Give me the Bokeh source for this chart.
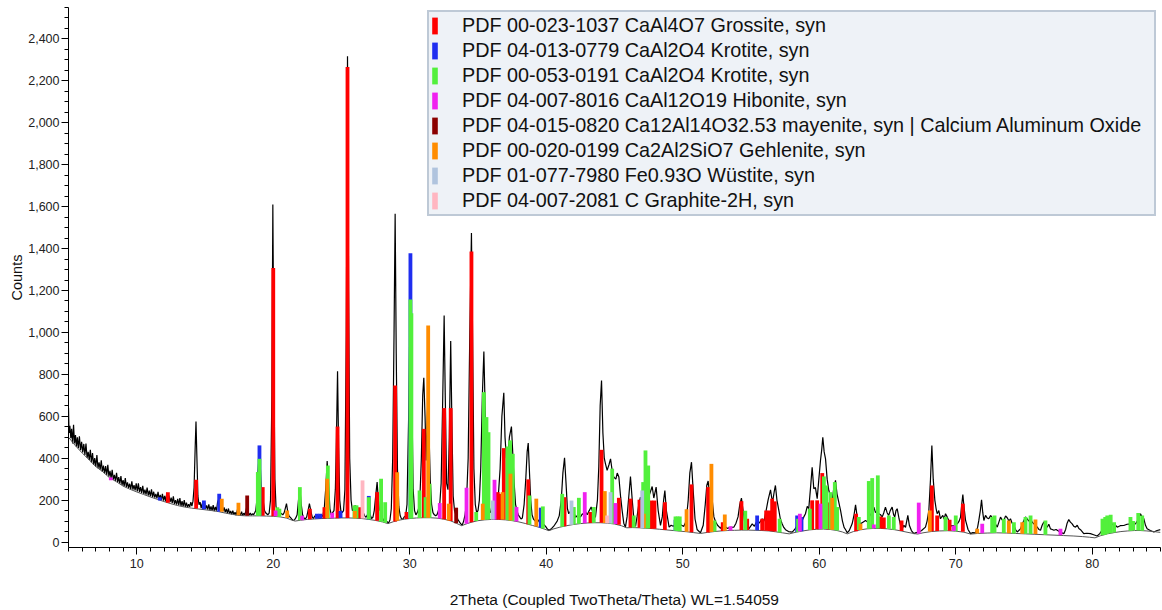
from bokeh.plotting import figure
from bokeh.models import Range1d, FixedTicker, NumeralTickFormatter, Legend, LegendItem
from bokeh.embed import file_html
from bokeh.resources import INLINE

# ---------------- data (2Theta, counts) ----------------
scan_low = [(5.00,640),(5.04,520),(5.10,555),(5.17,495),(5.23,540),(5.30,470),(5.37,560),(5.44,470),(5.51,510),(5.58,455),(5.65,500),(5.72,448),(5.80,505),(5.88,438),(5.96,478),(6.04,428),(6.12,468),(6.20,415),(6.28,470),(6.36,402),(6.44,430),(6.52,392),(6.60,440),(6.68,380),(6.76,425),(6.84,368),(6.92,400),(7.00,360),(7.08,415),(7.16,352),(7.24,380),(7.32,345),(7.40,390),(7.48,336),(7.56,365),(7.64,328),(7.72,362),(7.80,320),(7.88,368),(7.96,312),(8.04,340),(8.12,305),(8.20,345),(8.28,298),(8.36,320),(8.44,292),(8.52,330),(8.60,286),(8.68,310),(8.76,278),(8.84,315),(8.92,272),(9.00,295),(9.08,266),(9.16,305),(9.24,262),(9.32,285),(9.40,258),(9.48,278),(9.56,252),(9.64,290),(9.72,250),(9.80,272),(9.88,246),(9.96,280),(10.04,242),(10.12,280),(10.20,238),(10.28,262),(10.36,235),(10.44,268),(10.52,230),(10.60,250),(10.68,226),(10.76,260),(10.84,222),(10.92,245),(11.00,218),(11.08,252),(11.16,214),(11.24,240),(11.32,212),(11.40,230),(11.48,208),(11.56,240),(11.64,204),(11.72,225),(11.80,200),(11.88,230),(11.96,198),(12.04,220),(12.12,194),(12.20,235),(12.28,200),(12.36,222),(12.44,190),(12.52,212),(12.60,186),(12.68,218),(12.76,182),(12.84,200),(12.92,178),(13.00,206),(13.08,176),(13.16,210),(13.24,172),(13.32,195),(13.40,170),(13.48,200),(13.56,168),(13.64,188),(13.72,166),(13.80,180),(13.88,168),(13.96,190),(14.04,172),(14.12,195),(14.20,260),(14.28,450),(14.34,575),(14.40,420),(14.48,220),(14.56,178),(14.64,190),(14.72,162),(14.80,185),(14.88,160),(14.96,190),(15.04,158),(15.12,175),(15.20,155),(15.28,180),(15.36,152),(15.44,170),(15.52,150),(15.60,176),(15.68,148),(15.76,168),(15.84,150),(15.92,190),(16.00,205),(16.08,175),(16.16,195),(16.24,160),(16.32,148),(16.40,165),(16.48,142),(16.56,158),(16.64,138),(16.72,160),(16.80,135),(16.88,148),(16.96,132),(17.04,150),(17.12,130),(17.20,142),(17.28,128),(17.36,150),(17.44,170),(17.52,140),(17.60,128),(17.68,145),(17.76,126),(17.84,138),(17.92,130),(18.00,150),(18.08,175),(18.16,140),(18.24,130),(18.32,138),(18.40,128),(18.48,135),(18.56,130),(18.64,140),(18.72,150),(18.80,200),(18.88,330),(18.96,410),(19.04,380),(19.12,250),(19.20,240),(19.28,190),(19.36,150),(19.44,140),(19.52,135),(19.60,130),(19.70,138)]

scan_mid = [(19.80,200),(19.90,700),(19.97,1610),(20.04,900),(20.12,300),(20.20,170),(20.30,150),(20.40,155),(20.50,140),(20.60,135),(20.70,130),(20.80,140),(20.90,165),(20.97,183),(21.05,150),(21.15,125),(21.25,118),(21.35,110),(21.45,103),(21.55,105),(21.65,115),(21.75,130),(21.85,200),(21.95,257),(22.05,180),(22.15,130),(22.25,115),(22.35,110),(22.45,120),(22.55,150),(22.65,183),(22.75,150),(22.85,120),(22.95,112),(23.05,125),(23.15,118),(23.25,130),(23.35,115),(23.45,112),(23.55,118),(23.65,130),(23.75,170),(23.85,260),(23.95,386),(24.05,280),(24.15,160),(24.25,130),(24.35,140),(24.45,150),(24.55,250),(24.63,500),(24.71,815),(24.79,450),(24.87,200),(24.95,150),(25.05,140),(25.15,150),(25.25,250),(25.35,1000),(25.44,2318),(25.52,1200),(25.60,400),(25.70,200),(25.80,150),(25.90,160),(26.00,175),(26.10,165),(26.20,140),(26.30,160),(26.40,150),(26.50,160),(26.60,140),(26.70,125),(26.80,118),(26.90,130),(27.00,160),(27.10,130),(27.20,112),(27.30,118),(27.40,150),(27.52,230),(27.61,286),(27.70,200),(27.80,150),(27.90,165),(28.00,115),(28.10,100),(28.20,125),(28.30,100),(28.44,90),(28.55,105),(28.65,160),(28.75,400),(28.85,1000),(28.93,1566),(29.01,900),(29.10,350),(29.20,170),(29.30,125),(29.40,110),(29.50,110),(29.60,120),(29.70,125),(29.80,180),(29.92,600),(30.00,1000),(30.07,1100),(30.15,700),(30.25,250),(30.35,150),(30.45,130),(30.55,140),(30.65,160),(30.75,220),(30.85,400),(30.95,700),(31.03,784),(31.12,600),(31.20,389),(31.28,600),(31.35,700),(31.42,500),(31.50,300),(31.60,180),(31.70,140),(31.80,130),(31.90,125),(32.00,130),(32.10,150),(32.20,180),(32.30,280),(32.42,700),(32.52,1081),(32.60,700),(32.70,280),(32.80,250),(32.90,500),(33.00,959),(33.08,600),(33.18,220),(33.28,150),(33.40,125),(33.55,105),(33.70,90),(33.84,80),(33.95,100),(34.05,130),(34.15,180),(34.28,400),(34.40,1000),(34.52,1474),(34.60,1000),(34.70,350),(34.80,180),(34.90,140),(35.00,150),(35.10,200),(35.20,350),(35.32,700),(35.43,909),(35.52,650),(35.62,400),(35.72,250),(35.82,170),(35.92,140),(36.02,150),(36.12,180),(36.22,170),(36.32,150),(36.42,180),(36.52,250),(36.62,350),(36.75,600),(36.89,712),(36.98,500),(37.08,400),(37.20,420),(37.30,500),(37.45,551),(37.55,420),(37.65,280),(37.75,180),(37.85,150),(37.95,130),(38.05,120),(38.15,110),(38.25,115),(38.38,180),(38.50,300),(38.60,430),(38.68,472),(38.76,350),(38.86,200),(38.96,130),(39.06,110),(39.20,100),(39.35,110),(39.50,95),(39.65,100),(39.80,85),(39.95,75),(40.05,65),(40.19,55)]

scan_high = [(40.40,65),(40.60,80),(40.80,100),(40.95,125),(41.10,200),(41.22,330),(41.34,402),(41.45,280),(41.55,160),(41.65,135),(41.80,150),(41.90,130),(42.02,144),(42.15,118),(42.30,128),(42.51,120),(42.65,135),(42.80,125),(42.88,144),(43.00,130),(43.15,150),(43.29,167),(43.42,140),(43.60,118),(43.75,200),(43.85,360),(43.95,650),(44.05,771),(44.15,520),(44.25,400),(44.34,373),(44.46,342),(44.60,370),(44.71,397),(44.83,340),(44.95,310),(45.10,300),(45.20,329),(45.32,310),(45.45,214),(45.56,150),(45.68,90),(45.80,71),(45.92,120),(46.05,220),(46.17,313),(46.30,200),(46.42,110),(46.54,75),(46.65,120),(46.78,180),(46.90,214),(47.00,190),(47.12,220),(47.25,200),(47.38,230),(47.50,215),(47.63,240),(47.76,265),(47.88,210),(48.05,262),(48.20,150),(48.37,79),(48.50,120),(48.60,200),(48.69,246),(48.80,150),(49.00,71),(49.15,80),(49.30,75),(49.45,85),(49.60,78),(49.75,90),(49.90,80),(50.08,75),(50.25,100),(50.40,200),(50.52,330),(50.64,381),(50.76,250),(50.90,110),(51.05,60),(51.30,44),(51.50,80),(51.65,180),(51.76,270),(51.86,291),(51.96,230),(52.06,260),(52.16,200),(52.28,120),(52.40,98),(52.55,80),(52.77,65),(52.95,90),(53.10,75),(53.26,65),(53.50,70),(53.74,71),(53.90,90),(54.05,120),(54.18,180),(54.30,210),(54.42,150),(54.55,90),(54.72,65),(54.84,63),(55.09,87),(55.25,75),(55.45,103),(55.60,90),(55.82,111),(55.95,100),(56.11,151),(56.25,200),(56.43,249),(56.52,210),(56.60,199),(56.70,240),(56.79,270),(56.90,200),(57.04,151),(57.15,110),(57.28,87),(57.40,70),(57.53,59),(57.75,50),(58.02,47),(58.20,60),(58.38,79),(58.55,90),(58.75,103),(58.87,120),(58.99,135),(59.12,170),(59.23,159),(59.35,250),(59.48,357),(59.60,254),(59.72,260),(59.85,207),(59.97,300),(60.09,389),(60.18,440),(60.26,500),(60.36,430),(60.46,397),(60.58,300),(60.70,246),(60.82,220),(60.95,199),(61.07,260),(61.19,294),(61.30,230),(61.43,190),(61.56,151),(61.70,100),(61.82,70),(61.92,60),(62.05,44),(62.20,55),(62.41,87),(62.55,130),(62.66,178),(62.78,120),(62.90,100),(63.02,87),(63.20,95),(63.39,103),(63.55,95),(63.75,135),(63.88,120),(64.00,167),(64.12,140),(64.24,150),(64.36,135),(64.50,130),(64.61,119),(64.73,140),(64.85,167),(64.97,140),(65.09,127),(65.20,150),(65.34,167),(65.45,130),(65.53,119),(65.62,150),(65.71,159),(65.85,110),(65.97,75),(66.08,63),(66.20,80),(66.32,70),(66.49,127),(66.60,80),(66.75,55),(66.93,40),(67.10,45),(67.29,47),(67.50,55),(67.78,71),(67.90,100),(68.03,151),(68.15,300),(68.25,461),(68.35,300),(68.47,199),(68.56,160),(68.64,135),(68.76,150),(68.88,111),(69.05,127),(69.15,110),(69.25,135),(69.37,120),(69.49,103),(69.62,75),(69.74,79),(69.90,80),(70.11,87),(70.25,100),(70.35,119),(70.44,180),(70.52,227),(70.60,170),(70.72,103),(70.90,60),(71.08,40),(71.25,45),(71.45,44),(71.60,70),(71.69,103),(71.80,150),(71.89,202),(71.98,140),(72.06,103),(72.18,127),(72.30,115),(72.42,111),(72.55,127),(72.67,115),(72.79,103),(72.92,85),(73.04,71),(73.16,95),(73.28,119),(73.40,105),(73.52,103),(73.65,125),(73.77,116),(73.90,100),(74.01,111),(74.13,90),(74.26,79),(74.38,60),(74.50,48),(74.62,55),(74.74,63),(74.87,85),(74.99,103),(75.11,120),(75.23,111),(75.36,100),(75.48,111),(75.60,95),(75.72,87),(75.85,80),(75.97,71),(76.09,60),(76.21,56),(76.33,80),(76.45,95),(76.57,80),(76.70,71),(76.82,85),(76.94,63),(77.07,60),(77.19,56),(77.35,60),(77.55,52),(77.72,45),(77.92,40),(78.05,60),(78.16,90),(78.28,107),(78.40,95),(78.53,87),(78.65,75),(78.77,71),(78.90,80),(79.02,65),(79.14,59),(79.26,50),(79.38,40),(79.60,42),(79.87,40),(80.10,35),(80.36,29),(80.55,40),(80.70,55),(80.85,71),(80.97,100),(81.09,111),(81.20,95),(81.34,103),(81.46,85),(81.58,79),(81.70,80),(81.83,71),(82.05,78),(82.31,79),(82.55,85),(82.80,87),(82.95,80),(83.17,87),(83.30,100),(83.42,120),(83.53,135),(83.65,120),(83.78,111),(83.90,80),(84.02,63),(84.25,55),(84.51,48),(84.75,55),(85.00,59)]

background = [(5.0,500),(5.5,460),(6.0,425),(6.5,393),(7.0,360),(7.5,336),(8.0,307),(8.5,288),(9.0,267),(9.5,252),(10.0,239),(10.5,227),(11.0,215),(11.5,204),(12.0,193),(12.5,183),(13.0,174),(13.5,167),(14.0,162),(14.5,158),(15.0,154),(15.5,150),(16.0,145),(16.5,138),(17.0,132),(17.5,127),(18.0,125),(18.5,125),(19.0,125),(19.5,124),(20.0,123),(20.5,120),(21.0,114),(21.3,106),(21.6,100),(22.0,104),(22.5,108),(23.0,110),(23.5,112),(24.0,113),(24.5,114),(25.0,115),(25.5,115),(26.0,114),(26.5,112),(27.0,108),(27.5,103),(28.0,96),(28.4,88),(28.8,97),(29.2,104),(29.6,109),(30.0,112),(30.5,115),(31.0,116),(31.5,116),(32.0,114),(32.5,109),(33.0,101),(33.4,90),(33.8,78),(34.2,88),(34.6,96),(35.0,102),(35.5,106),(36.0,108),(36.5,108),(37.0,106),(37.5,102),(38.0,96),(38.5,88),(39.0,79),(39.5,70),(39.9,61),(40.2,54),(40.5,62),(41.0,71),(41.5,78),(42.0,84),(42.5,88),(43.0,91),(43.5,92),(44.0,92),(44.5,90),(45.0,86),(45.5,78),(45.9,68),(46.3,69),(46.8,68),(47.3,66),(47.8,64),(48.3,61),(48.8,58),(49.3,55),(49.8,52),(50.3,49),(50.8,45),(51.3,41),(51.8,46),(52.3,50),(52.8,53),(53.3,55),(53.8,56),(54.3,57),(54.8,57),(55.3,56),(55.8,55),(56.3,53),(56.8,49),(57.3,44),(57.8,39),(58.3,47),(58.8,53),(59.3,58),(59.8,61),(60.3,62),(60.8,60),(61.3,55),(61.7,48),(62.05,39),(62.5,50),(63.0,58),(63.5,63),(64.0,65),(64.5,65),(65.0,63),(65.5,59),(66.0,53),(66.5,46),(67.0,40),(67.2,38),(67.6,44),(68.2,50),(68.8,53),(69.4,54),(70.0,52),(70.6,47),(71.1,38),(71.6,41),(72.3,43),(73.0,44),(73.7,43),(74.4,41),(75.1,39),(75.8,37),(76.5,35),(77.2,33),(77.9,31),(78.6,29),(79.3,26),(79.8,23),(80.2,20),(80.6,30),(81.1,39),(81.6,45),(82.1,50),(82.6,53),(83.1,55),(83.5,55),(84.0,53),(84.5,50),(85.0,46)]

# stick patterns: (2Theta, bottom, top)
grossite = [(12.28,188,238),(14.35,160,297),(19.23,125,262),(20.00,123,1307),(22.68,109,159),(23.75,112,166),(24.71,114,551),(25.44,115,2266),(26.30,113,166),(27.61,102,238),(28.93,98,747),(29.76,110,143),(31.03,116,540),(32.52,109,639),(33.00,101,639),(34.52,95,1386),(36.45,108,238),(36.58,108,230),(36.89,107,448),(38.68,85,299),(41.34,75,214),(43.24,91,143),(44.05,92,440),(45.32,82,211),(46.17,70,207),(46.83,68,202),(47.69,64,198),(47.93,63,198),(48.69,58,190),(50.64,47,275),(51.86,46,262),(52.93,53,95),(54.30,57,195),(54.72,57,111),(55.82,55,111),(56.11,54,151),(56.36,53,151),(56.55,51,207),(56.74,50,194),(59.48,59,199),(59.85,61,199),(60.22,62,329),(60.65,61,189),(62.70,52,135),(64.49,65,122),(64.73,64,117),(66.03,53,103),(68.25,51,270),(68.64,53,127),(69.55,54,106),(70.52,49,183)]
krotite_a = [(11.69,198,214),(14.92,157,198),(16.04,145,230),(18.99,125,461),(23.20,111,135),(23.45,112,135),(24.93,115,148),(27.00,108,220),(30.05,112,1378),(39.60,68,164),(49.47,54,106),(55.45,56,127),(58.38,48,127),(58.70,52,120)]
krotite_b = [(18.87,125,334),(18.99,125,397),(20.30,122,166),(20.45,121,159),(21.95,104,262),(24.00,113,365),(25.95,114,175),(26.10,114,175),(27.00,108,214),(27.90,97,302),(28.20,92,190),(30.05,112,1157),(30.12,112,1092),(30.72,115,246),(31.16,116,214),(31.45,116,278),(34.87,100,143),(35.43,106,715),(35.62,107,596),(35.77,107,524),(37.16,105,456),(37.35,103,485),(37.55,102,421),(38.77,84,222),(39.75,65,170),(41.17,73,230),(42.02,84,167),(42.39,87,211),(43.48,92,167),(44.83,87,350),(46.41,70,127),(47.10,67,286),(47.27,66,437),(47.47,65,365),(49.47,54,122),(49.62,53,122),(49.78,52,122),(52.33,50,103),(54.58,57,149),(57.10,46,111),(58.45,48,111),(59.31,58,159),(60.34,62,313),(60.51,62,270),(60.82,60,238),(61.14,57,286),(61.31,55,167),(62.90,57,119),(63.63,63,291),(63.88,64,305),(64.29,65,318),(65.10,63,127),(65.46,59,119),(69.25,54,119),(70.00,52,127),(72.67,43,120),(72.84,44,127),(73.52,43,111),(74.26,41,95),(75.11,39,119),(75.48,38,127),(76.57,35,103),(80.75,32,111),(80.95,35,120),(81.10,39,127),(81.35,42,130),(81.60,45,95),(82.80,54,119),(83.00,55,100),(83.37,55,138),(83.66,54,127)]
hibonite = [(8.10,295,308),(20.17,123,151),(22.12,104,125),(24.32,113,140),(32.20,112,186),(34.16,87,259),(36.21,108,297),(37.82,98,167),(42.82,90,238),(45.07,86,186),(53.50,55,75),(58.58,50,135),(60.09,62,183),(64.00,65,84),(67.29,40,188),(69.86,53,79),(71.94,42,87),(77.67,32,63)]
mayenite = [(18.09,125,222),(33.40,90,164)]
gehlenite = [(16.23,145,207),(17.45,128,187),(21.02,115,151),(23.95,113,302),(25.98,114,148),(29.08,102,333),(31.35,116,1033),(32.86,103,183),(35.35,105,183),(36.80,107,238),(37.38,103,326),(39.27,74,207),(44.29,91,243),(47.15,67,135),(50.28,49,156),(52.10,48,373),(53.08,54,132),(60.95,59,211),(63.02,58,87),(68.10,50,151),(71.57,41,63),(73.89,42,103),(74.87,40,95),(75.84,38,107)]
wustite = [(36.08,108,198),(41.85,82,198),(44.71,89,238),(47.03,67,246)]
graphite = [(26.54,112,294),(44.46,90,127)]

phase_labels = ["PDF 00-023-1037 CaAl4O7 Grossite, syn",
                "PDF 04-013-0779 CaAl2O4 Krotite, syn",
                "PDF 00-053-0191 CaAl2O4 Krotite, syn",
                "PDF 04-007-8016 CaAl12O19 Hibonite, syn",
                "PDF 04-015-0820 Ca12Al14O32.53 mayenite, syn | Calcium Aluminum Oxide",
                "PDF 00-020-0199 Ca2Al2SiO7 Gehlenite, syn",
                "PDF 01-077-7980 Fe0.93O W\u00fcstite, syn",
                "PDF 04-007-2081 C Graphite-2H, syn"]
phase_colors = ["#ff0000", "#1f2ef0", "#52f03c", "#f020f0", "#8b0000", "#ff8c00", "#b0c4de", "#ffb6c1"]
phases = [grossite, krotite_a, krotite_b, hibonite, mayenite, gehlenite, wustite, graphite]

x_ticks = [10, 20, 30, 40, 50, 60, 70, 80]
y_ticks = [0, 200, 400, 600, 800, 1000, 1200, 1400, 1600, 1800, 2000, 2200, 2400]

# ---------------- figure ----------------
p = figure(width=1162, height=610, x_range=Range1d(5, 85), y_range=Range1d(-26, 2550),
           min_border_left=68, min_border_right=2, min_border_top=7, min_border_bottom=63,
           output_backend="svg", toolbar_location=None)
p.xgrid.visible = False
p.ygrid.visible = False
p.outline_line_color = None
p.background_fill_color = "white"

scan = scan_low + scan_mid + scan_high
p.line([a for a, b in scan], [b for a, b in scan], line_color="black", line_width=1.2)
p.line([a for a, b in background], [b for a, b in background], line_color="#555555", line_width=1)

items = []
for lab, col, data in zip(phase_labels, phase_colors, phases):
    r = p.vbar(x=[d[0] for d in data], bottom=[d[1] for d in data], top=[d[2] for d in data],
               width=0.28, fill_color=col, line_color=None)
    items.append(LegendItem(label=lab, renderers=[r]))

legend = Legend(items=items, location=(359, 331), orientation="vertical",
                label_text_font="Liberation Sans", label_text_font_size="19.8px",
                label_text_color="#111111", glyph_width=7, glyph_height=21,
                label_height=21, label_width=690, spacing=2, padding=2, label_standoff=24,
                margin=0, background_fill_color="#eef2f7", background_fill_alpha=1.0,
                border_line_color="#8e9fb5", border_line_width=2)
p.add_layout(legend)

for ax in (p.xaxis[0], p.yaxis[0]):
    ax.axis_line_color = "black"
    ax.major_tick_line_color = "black"
    ax.minor_tick_line_color = "black"
    ax.major_tick_in = 0
    ax.major_tick_out = 7
    ax.minor_tick_in = 0
    ax.minor_tick_out = 4
    ax.major_label_text_font = "Liberation Sans"
    ax.major_label_text_font_size = "12.5px"
    ax.major_label_text_color = "#222222"
    ax.axis_label_text_font = "Liberation Sans"
    ax.axis_label_text_font_style = "normal"
    ax.axis_label_text_color = "#111111"

p.xaxis.axis_label_text_font_size = "15.5px"
p.yaxis.axis_label_text_font_size = "14.5px"
p.xaxis.ticker = FixedTicker(ticks=x_ticks, minor_ticks=list(range(5, 86)))
p.yaxis.ticker = FixedTicker(ticks=y_ticks, minor_ticks=list(range(0, 2551, 50)))
p.yaxis.formatter = NumeralTickFormatter(format="0,0")
p.xaxis.axis_label = "2Theta (Coupled TwoTheta/Theta) WL=1.54059"
p.yaxis.axis_label = "Counts"
p.xaxis.major_label_standoff = 4
p.yaxis.major_label_standoff = 2
p.xaxis.axis_label_standoff = 20
p.yaxis.axis_label_standoff = 0

open("out.html", "w").write(file_html(p, INLINE))
